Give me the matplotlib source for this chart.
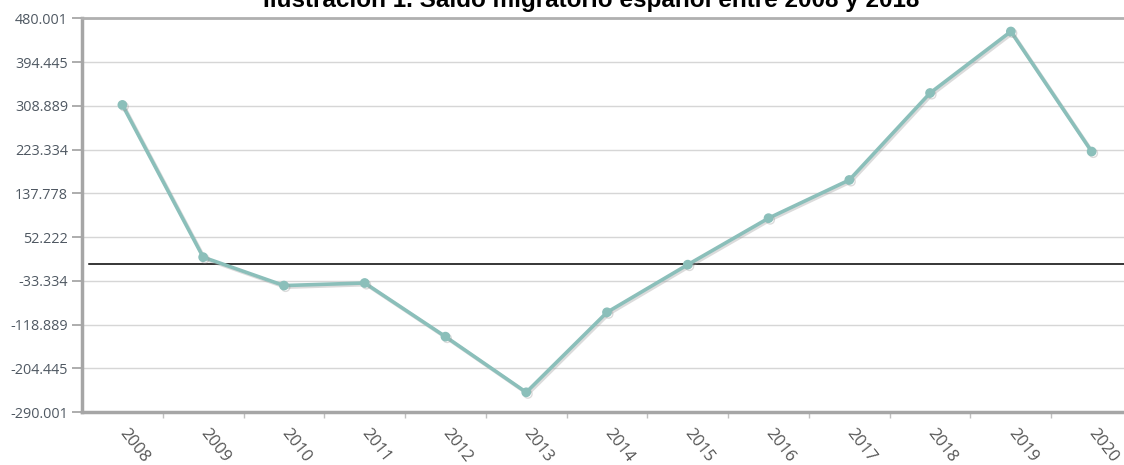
import matplotlib
matplotlib.use("Agg")
import matplotlib.pyplot as plt
import matplotlib.patheffects as pe
import numpy as np

years = ["2008", "2009", "2010", "2011", "2012", "2013", "2014",
         "2015", "2016", "2017", "2018", "2019", "2020"]
saldo = [310.6, 12.8, -42.7, -37.7, -142.6, -251.5, -95.0,
         -1.8, 89.1, 163.8, 333.9, 454.2, 219.4]
y_ticks = [-290.001, -204.445, -118.889, -33.334, 52.222, 137.778,
           223.334, 308.889, 394.445, 480.001]
y_labels = ["-290.001", "-204.445", "-118.889", "-33.334", "52.222", "137.778",
            "223.334", "308.889", "394.445", "480.001"]
title = "Ilustración 1. Saldo migratorio español entre 2008 y 2018"

W, H = 1124, 465
fig = plt.figure(figsize=(W / 100, H / 100), dpi=100)
left, right, top, bottom = 82, 1132, 18.3, 412
ax = fig.add_axes([left / W, (H - bottom) / H, (right - left) / W, (bottom - top) / H])

x = np.arange(len(years))
ax.set_xlim(-0.5, len(years) - 0.5)
ax.set_ylim(y_ticks[0], y_ticks[-1])

ax.set_yticks(y_ticks)
ax.set_yticklabels(y_labels, fontfamily="Open Sans", fontsize=10.4, color="#4f5862")
ax.yaxis.grid(True, color="#d6d6d6", linewidth=1)
ax.set_axisbelow(True)

ax.set_xticks(x)
ax.set_xticklabels(years, rotation=-52, ha="left", va="center", rotation_mode="anchor",
                   fontfamily="Open Sans", fontsize=12, color="#555555")
ax.tick_params(axis="x", length=0, pad=13)
ax.set_xticks(x[:-1] + 0.5, minor=True)
ax.tick_params(axis="x", which="minor", length=4, color="#c0c0c0", width=1)
ax.tick_params(axis="y", length=7, color="#a0a0a0", width=1.2, pad=3)

ax.spines["right"].set_visible(False)
for s in ["left", "bottom"]:
    ax.spines[s].set_color("#a6a6a6")
    ax.spines[s].set_linewidth(2.5)
ax.spines["top"].set_color("#b0b0b0")
ax.spines["top"].set_linewidth(2)

ax.axhline(0, xmin=0.007, xmax=1, color="black", linewidth=1.1, zorder=2)

ax.plot(x, saldo, color="#8bbfba", linewidth=2.6, marker="o", markersize=6,
        markerfacecolor="#8bbfba", markeredgecolor="#8bbfba", zorder=3,
        path_effects=[pe.SimpleLineShadow(offset=(1.2, -1.2), shadow_color="#999999", alpha=0.35),
                      pe.Normal()])

fig.text(591 / W, 1 - 7 / H, title, ha="center", va="baseline",
         fontfamily="Liberation Sans", fontweight="bold", fontsize=17.5, color="black")

fig.savefig("out.png", dpi=100)
